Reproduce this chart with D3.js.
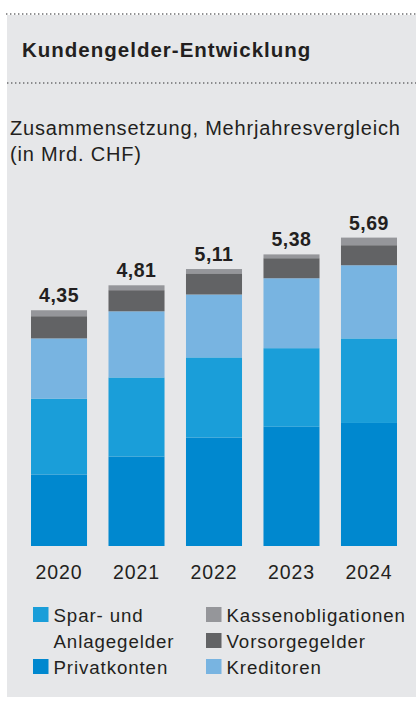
<!DOCTYPE html>
<html>
<head>
<meta charset="utf-8">
<script src="https://cdn.jsdelivr.net/npm/d3@7/dist/d3.min.js"></script>
<style>
  html, body { margin: 0; padding: 0; background: #ffffff; }
  svg { display: block; }
  text { font-family: "Liberation Sans", Arial, Helvetica, sans-serif; }
</style>
</head>
<body>
<svg id="chart" width="416" height="708"></svg>
<script>
// Customer deposits by year, in billions of CHF
const years = ["2020", "2021", "2022", "2023", "2024"];
const totals = [4.35, 4.81, 5.11, 5.38, 5.69];
const totalLabels = ["4,35", "4,81", "5,11", "5,38", "5,69"];

const privatkonten      = [1.32, 1.65, 2.00, 2.20, 2.27];
const sparAnlagegelder  = [1.40, 1.46, 1.48, 1.45, 1.56];
const kreditoren        = [1.11, 1.22, 1.16, 1.29, 1.35];
const vorsorgegelder    = [0.41, 0.39, 0.39, 0.37, 0.37];
const kassenobligationen = [0.11, 0.09, 0.08, 0.07, 0.14];

const seriesKeys = ["privatkonten", "spar", "kreditoren", "vorsorge", "kasse"];
const seriesColors = {
  privatkonten: "#0088cf",
  spar: "#1a9ed9",
  kreditoren: "#78b4e1",
  vorsorge: "#626365",
  kasse: "#95969a"
};

const rows = years.map((y, i) => ({
  year: y,
  privatkonten: privatkonten[i],
  spar: sparAnlagegelder[i],
  kreditoren: kreditoren[i],
  vorsorge: vorsorgegelder[i],
  kasse: kassenobligationen[i]
}));

const ink = "#231f20";
const svg = d3.select("#chart");

// panel background
svg.append("rect")
  .attr("x", 7).attr("y", 15)
  .attr("width", 409).attr("height", 682)
  .attr("fill", "#e6e7e9");

// dotted separators
[14, 83].forEach((yy, k) => {
  svg.append("line")
    .attr("x1", k === 0 ? 6 : 7).attr("x2", 416)
    .attr("y1", yy).attr("y2", yy)
    .attr("stroke", "#6d6e70")
    .attr("stroke-width", 1.3)
    .attr("stroke-dasharray", "1.4,2.6");
});

svg.append("text")
  .attr("x", 22).attr("y", 57)
  .attr("font-size", 20.5)
  .attr("font-weight", "bold")
  .attr("letter-spacing", 1.0)
  .attr("fill", ink)
  .text("Kundengelder-Entwicklung");

svg.append("text")
  .attr("x", 10).attr("y", 135)
  .attr("font-size", 20)
  .attr("letter-spacing", 0.82)
  .attr("fill", ink)
  .text("Zusammensetzung, Mehrjahresvergleich");

svg.append("text")
  .attr("x", 10).attr("y", 161)
  .attr("font-size", 20)
  .attr("letter-spacing", 0.82)
  .attr("fill", ink)
  .text("(in Mrd. CHF)");

// scales
const x = d3.scaleBand()
  .domain(years)
  .range([31, 397])
  .paddingInner(0.277)
  .paddingOuter(0);

const y = d3.scaleLinear()
  .domain([0, 6])
  .range([546, 546 - 6 * 54.2]);

const stacked = d3.stack().keys(seriesKeys)(rows);

svg.append("g")
  .selectAll("g")
  .data(stacked)
  .join("g")
  .attr("fill", d => seriesColors[d.key])
  .selectAll("rect")
  .data(d => d)
  .join("rect")
  .attr("x", d => x(d.data.year))
  .attr("width", x.bandwidth())
  .attr("y", d => y(d[1]))
  .attr("height", d => y(d[0]) - y(d[1]));

// totals above bars
svg.append("g")
  .selectAll("text")
  .data(years)
  .join("text")
  .attr("x", d => x(d) + x.bandwidth() / 2)
  .attr("y", (d, i) => y(totals[i]) - 8)
  .attr("text-anchor", "middle")
  .attr("font-size", 19.5)
  .attr("font-weight", "bold")
  .attr("letter-spacing", 0.5)
  .attr("fill", ink)
  .text((d, i) => totalLabels[i]);

// year axis
const xAxis = d3.axisBottom(x).tickSize(0).tickPadding(0);
const axisG = svg.append("g")
  .attr("transform", "translate(0,566)")
  .call(xAxis);
axisG.select(".domain").remove();
axisG.selectAll("text")
  .attr("dy", null)
  .attr("y", 13)
  .attr("font-size", 19.5)
  .attr("letter-spacing", 0.9)
  .attr("fill", ink)
  .style("font-family", "\"Liberation Sans\", Arial, sans-serif");

// legend
const legendItems = [
  { key: "spar", lines: ["Spar- und", "Anlagegelder"], x: 33, y: 607 },
  { key: "privatkonten", lines: ["Privatkonten"], x: 33, y: 659 },
  { key: "kasse", lines: ["Kassenobligationen"], x: 206, y: 607 },
  { key: "vorsorge", lines: ["Vorsorgegelder"], x: 206, y: 633 },
  { key: "kreditoren", lines: ["Kreditoren"], x: 206, y: 659 }
];

const lg = svg.append("g")
  .selectAll("g")
  .data(legendItems)
  .join("g")
  .attr("transform", d => `translate(${d.x},${d.y})`);

lg.append("rect")
  .attr("width", 15.5).attr("height", 15)
  .attr("fill", d => seriesColors[d.key]);

lg.each(function(d) {
  const g = d3.select(this);
  d.lines.forEach((t, i) => {
    g.append("text")
      .attr("x", 20.5)
      .attr("y", 15 + i * 25.5)
      .attr("font-size", 18.7)
      .attr("letter-spacing", 0.9)
      .attr("fill", ink)
      .text(t);
  });
});
</script>
</body>
</html>
